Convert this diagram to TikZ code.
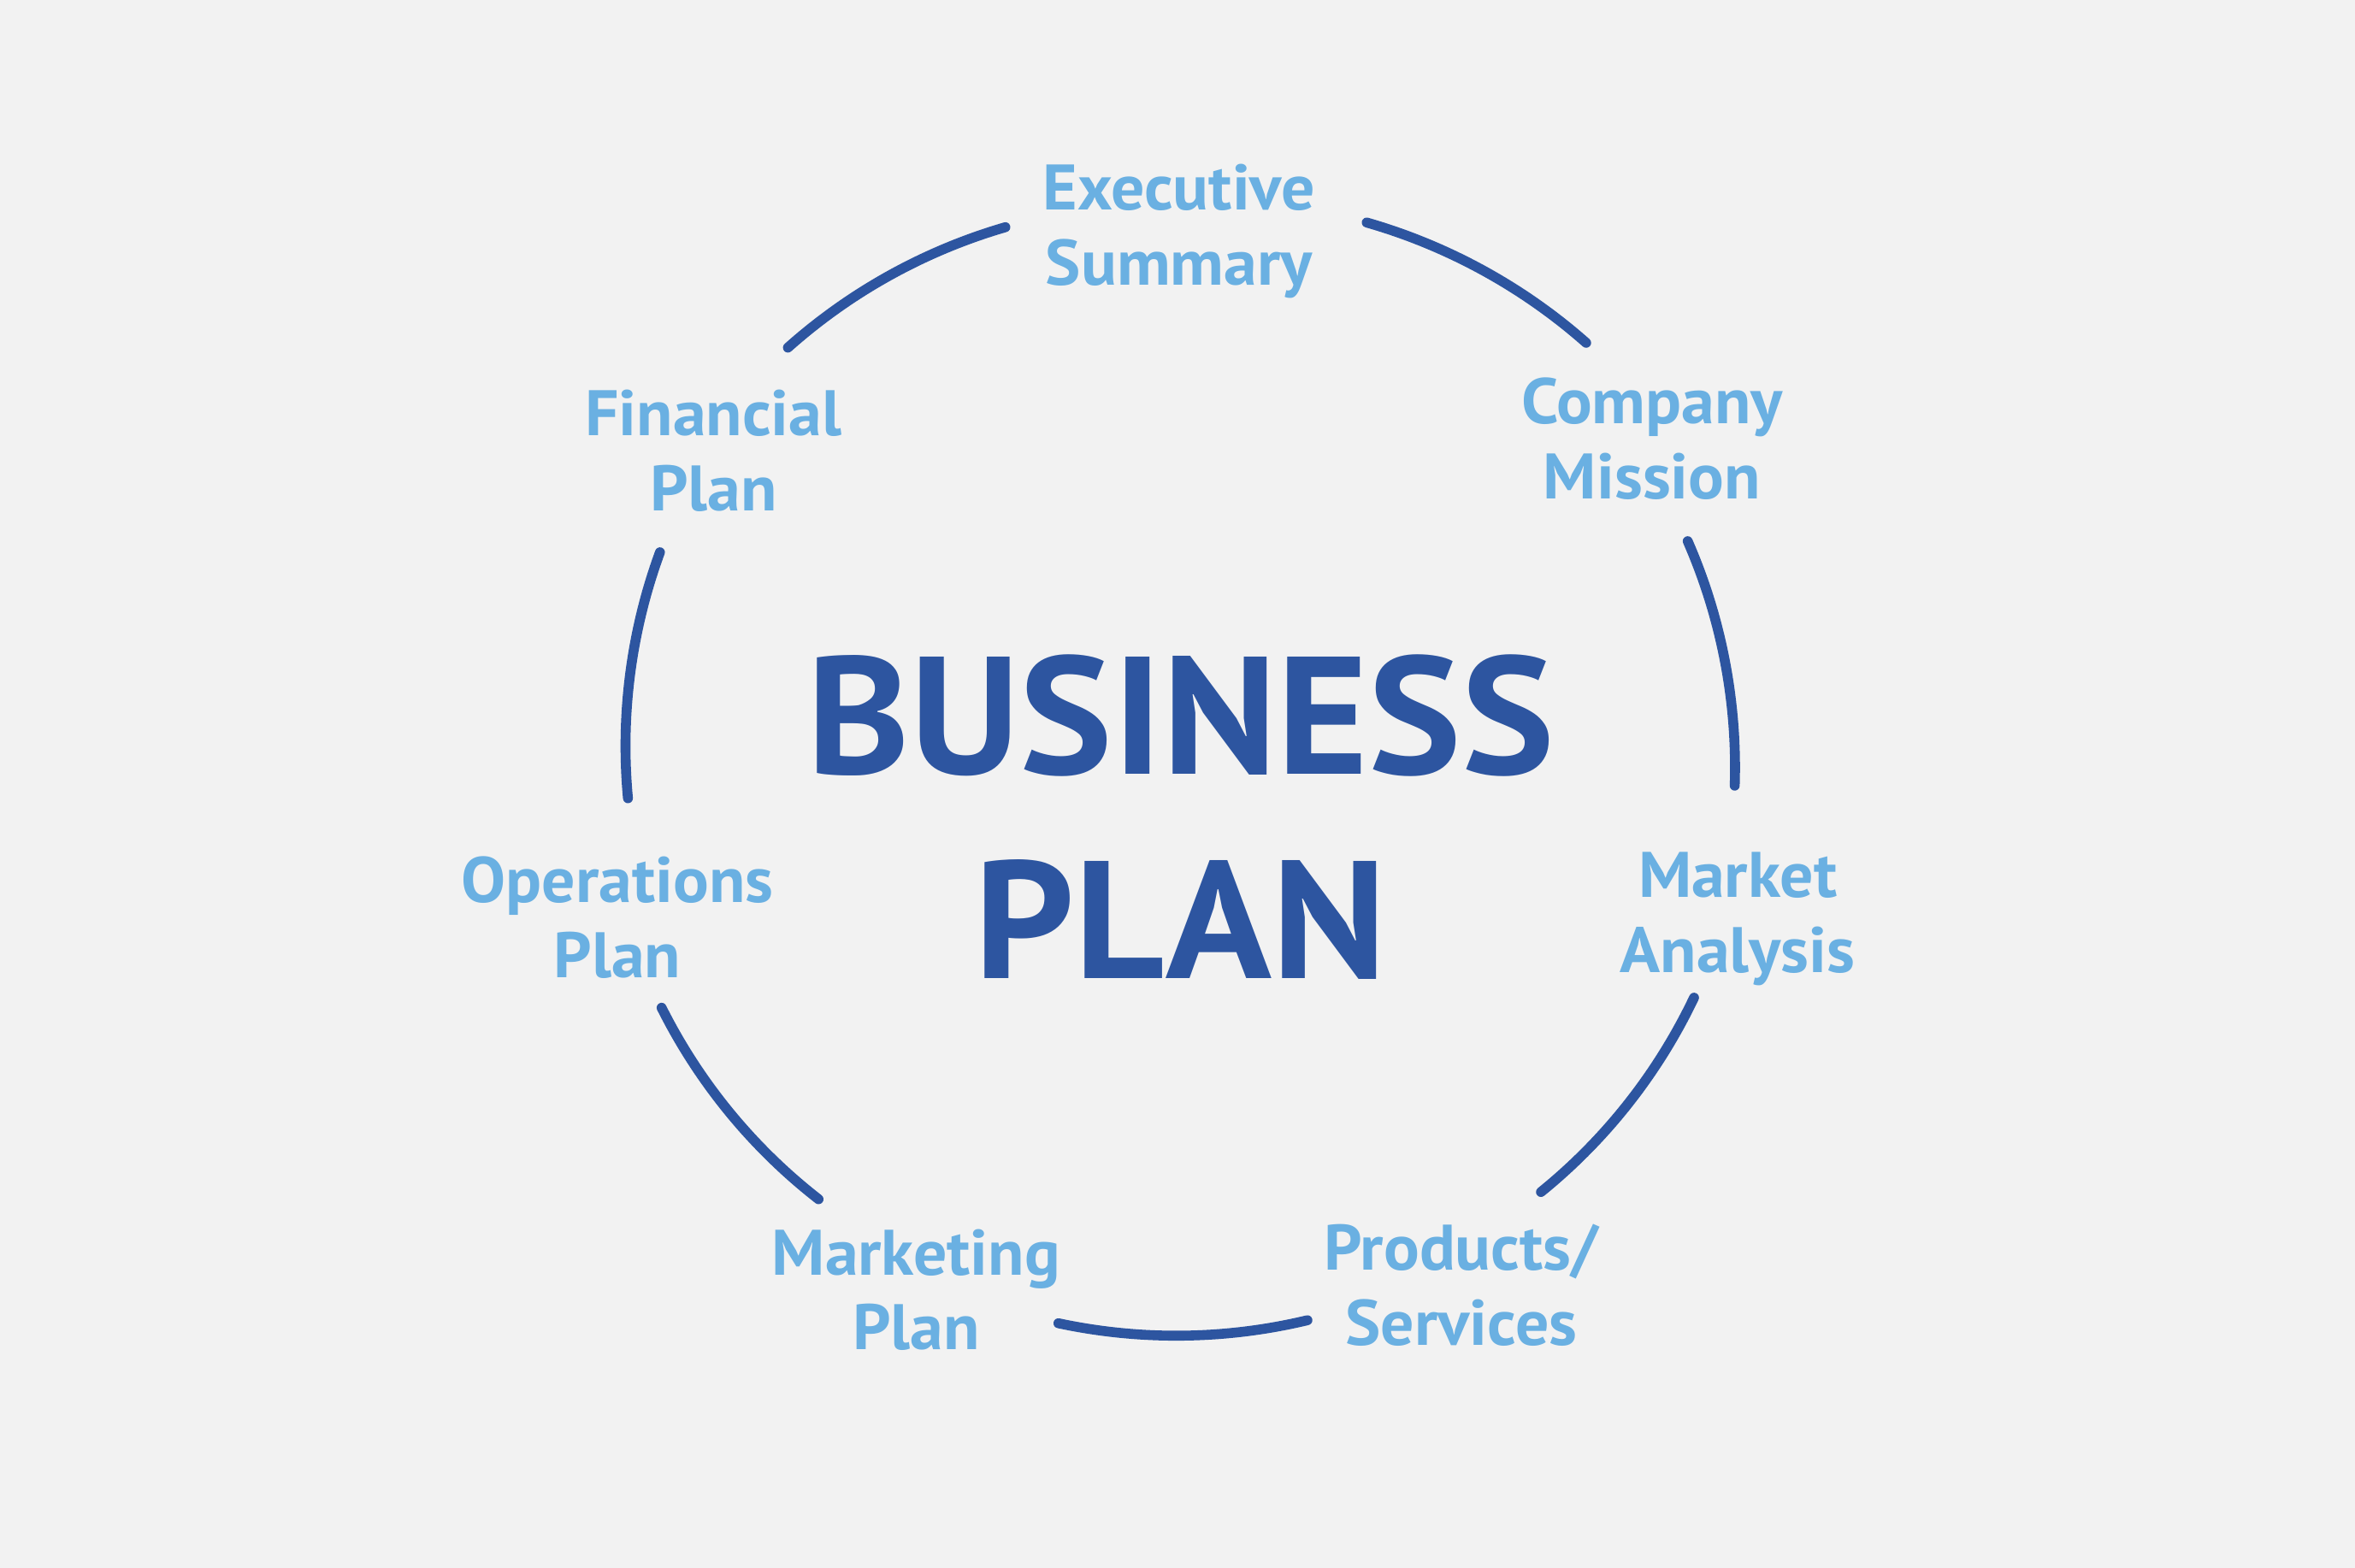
\documentclass[tikz,border=0pt]{standalone}
\usepackage{fontspec}
\setmainfont{PT Sans}[FakeStretch=1.035]
\newfontfamily\ttlfont{PT Sans}[FakeStretch=1.045]
\definecolor{bgc}{HTML}{F2F2F2}
\definecolor{darkb}{HTML}{2D55A0}
\definecolor{lightb}{HTML}{6AB0E2}
\begin{document}
\begin{tikzpicture}[x=0.017564cm,y=0.017564cm,
  ring/.style={draw=darkb,line width=3.3pt,line cap=round,bend left=12.75,looseness=0.862},
  lbl/.style={text=lightb,font=\bfseries\fontsize{21.4}{25}\selectfont,align=center,inner sep=0pt},
  ttl/.style={text=darkb,font=\ttlfont\bfseries\fontsize{55.7}{68}\selectfont,align=center,inner sep=0pt}]
\fill[bgc] (0,0) rectangle (1568,1044);
\useasboundingbox (0,0) rectangle (1568,1044);
% arc end points (y measured from the bottom)
\coordinate (tl1) at (524.6,812.5);  \coordinate (tl2) at (669.4,892.7);
\coordinate (tr1) at (910.0,895.8);  \coordinate (tr2) at (1056.1,815.7);
\coordinate (r1)  at (1123.7,683.6); \coordinate (r2)  at (1155.0,520.8);
\coordinate (lr1) at (1127.9,379.6); \coordinate (lr2) at (1026.0,250.2);
\coordinate (b1)  at (870.5,164.8);  \coordinate (b2)  at (704.7,162.8);
\coordinate (ll1) at (545.0,245.4);  \coordinate (ll2) at (440.5,372.9);
\coordinate (l1)  at (418.1,512.4);  \coordinate (l2)  at (439.4,676.2);
\draw[ring] (tl1) to (tl2);
\draw[ring] (tr1) to (tr2);
\draw[ring] (r1) to (r2);
\draw[ring] (lr1) to (lr2);
\draw[ring] (b1) to (b2);
\draw[ring] (ll1) to (ll2);
\draw[ring] (l1) to (l2);
\node[ttl] (title) at (786,500) {BUSINESS\\PLAN};
\node[lbl] (exec) at (785,890) {Executive\\Summary};
\node[lbl] (comp) at (1100,752) {Company\\Mission};
\node[lbl] (fin) at (475,744) {Financial\\Plan};
\node[lbl] (mkt) at (1157,432) {Market\\Analysis};
\node[lbl] (ops) at (411,433) {Operations\\Plan};
\node[lbl] (mktg) at (610,185) {Marketing\\Plan};
\node[lbl] (prod) at (973,188) {Products/\\Services};
\end{tikzpicture}
\end{document}
